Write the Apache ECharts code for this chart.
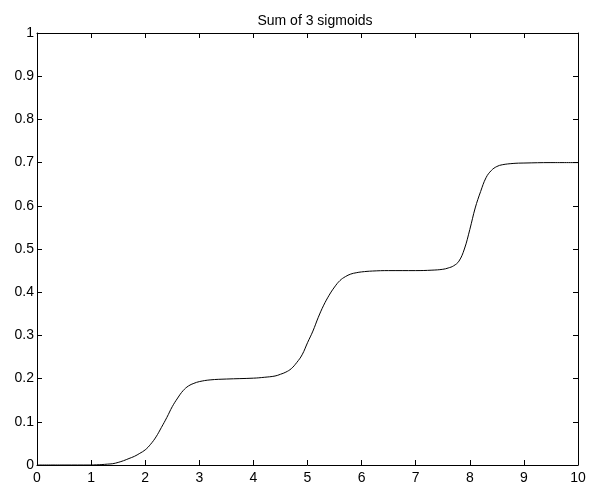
<!DOCTYPE html>
<html>
<head>
<meta charset="utf-8">
<script src="https://cdn.jsdelivr.net/npm/echarts@6/dist/echarts.min.js"></script>
<style>html,body{margin:0;padding:0;background:#fff;}#c{width:590px;height:482px;}</style>
</head>
<body>
<div id="c"></div>
<script>
var titleText = 'Sum of 3 sigmoids';
var xs = [0, 0.5, 1.0, 1.1, 1.2, 1.3, 1.4, 1.5, 1.6, 1.7, 1.8, 1.9, 2.0, 2.1, 2.2, 2.3, 2.4, 2.5, 2.6, 2.7, 2.8, 2.9, 3.0, 3.2, 3.5, 4.0, 4.2, 4.4, 4.5, 4.6, 4.7, 4.8, 4.9, 5.0, 5.1, 5.2, 5.3, 5.4, 5.5, 5.6, 5.7, 5.8, 5.9, 6.0, 6.2, 6.5, 7.0, 7.3, 7.5, 7.6, 7.7, 7.8, 7.9, 8.0, 8.1, 8.2, 8.3, 8.4, 8.5, 8.6, 8.8, 9.0, 9.5, 10];
var ys = [0, 0, 0, 0.0005, 0.001, 0.002, 0.003, 0.006, 0.01, 0.015, 0.02, 0.027, 0.035, 0.048, 0.065, 0.087, 0.11, 0.135, 0.155, 0.172, 0.183, 0.189, 0.193, 0.197, 0.199, 0.201, 0.203, 0.206, 0.21, 0.215, 0.223, 0.237, 0.255, 0.283, 0.31, 0.342, 0.37, 0.393, 0.412, 0.427, 0.436, 0.442, 0.445, 0.447, 0.449, 0.45, 0.45, 0.451, 0.453, 0.456, 0.461, 0.472, 0.5, 0.545, 0.595, 0.633, 0.665, 0.682, 0.691, 0.695, 0.698, 0.699, 0.7, 0.7];
var xTicks = [0,1,2,3,4,5,6,7,8,9,10];
var yTicks = [0,0.1,0.2,0.3,0.4,0.5,0.6,0.7,0.8,0.9,1];

var data = xs.map(function(x, i){ return [x, ys[i]]; });
var font = 'Liberation Sans, Arial, sans-serif';
var lineStyle = {color:'#000', width:1};
function axisBase(extra){
  return Object.assign({
    type:'value',
    axisLine:{show:true, onZero:false, lineStyle:lineStyle},
    axisTick:{show:true, inside:true, length:5, lineStyle:lineStyle},
    splitLine:{show:false}
  }, extra);
}
var chart = echarts.init(document.getElementById('c'), null, {renderer:'canvas'});
chart.setOption({
  backgroundColor:'#fff',
  animation:false,
  title:{text:titleText, left:310, textAlign:'center', top:9,
    textStyle:{fontFamily:font, fontSize:14, fontWeight:'normal', color:'#000'}},
  grid:{left:37, right:12, top:33, bottom:17, containLabel:false, outerBoundsMode:'none'},
  xAxis:[
    axisBase({position:'bottom', min:0, max:10, interval:1,
      axisLabel:{show:true, margin:6, fontFamily:font, fontSize:14, color:'#000',
        formatter:function(v){ return String(v); }}}),
    axisBase({position:'top', min:0, max:10, interval:1, axisLabel:{show:false}})
  ],
  yAxis:[
    axisBase({position:'left', min:0, max:1, interval:0.1,
      axisLabel:{show:true, margin:3, fontFamily:font, fontSize:14, color:'#000',
        formatter:function(v){ return String(Math.round(v*10)/10); }}}),
    axisBase({position:'right', min:0, max:1, interval:0.1, axisLabel:{show:false}})
  ],
  series:[{
    type:'line', data:data, xAxisIndex:0, yAxisIndex:0,
    smooth:0.4, showSymbol:false, symbol:'none',
    lineStyle:{color:'#000', width:1}
  }]
});
</script>
</body>
</html>
